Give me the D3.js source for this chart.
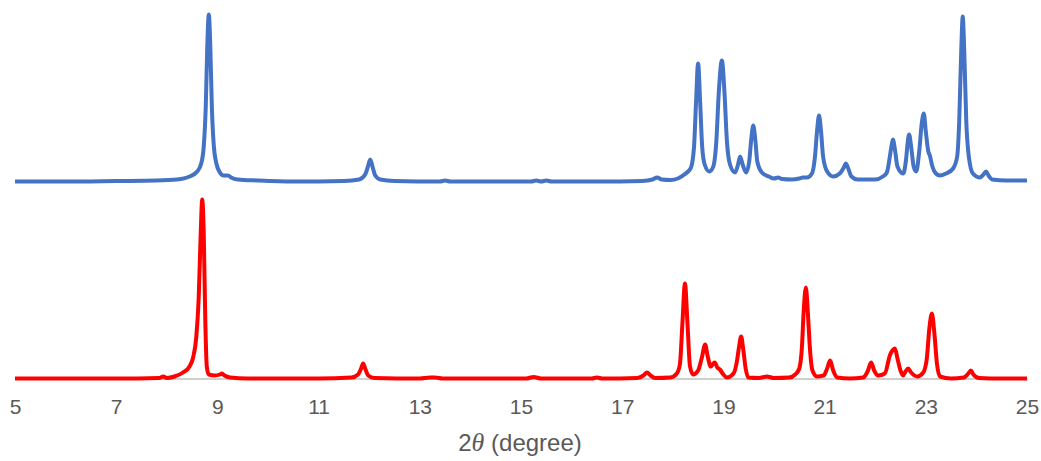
<!DOCTYPE html>
<html>
<head>
<meta charset="utf-8">
<script src="https://cdn.jsdelivr.net/npm/d3@7"></script>
<style>
  body { margin: 0; background: #fff; }
  svg { display: block; }
</style>
</head>
<body>
<script>
// 2theta ticks shown under the axis
var tickValues = [5, 7, 9, 11, 13, 15, 17, 19, 21, 23, 25];

// top pattern (blue), intensity above its own baseline
var bluePattern = [
  [5.00, 0], [6.00, 0], [7.00, 0.5], [7.80, 1], [8.20, 2], [8.45, 5], [8.60, 10], [8.68, 18],
  [8.73, 35], [8.77, 75], [8.80, 135], [8.83, 167], [8.86, 135], [8.89, 75], [8.93, 35], [8.98, 18],
  [9.05, 9], [9.12, 6], [9.21, 6], [9.27, 4], [9.40, 2], [9.80, 1], [10.50, 0], [11.50, 0.5],
  [11.80, 2], [11.92, 7], [11.97, 14], [12.02, 22], [12.07, 14], [12.12, 6], [12.22, 2], [12.50, 0.5],
  [13.40, 0], [13.50, 1], [13.60, 0], [15.20, 0], [15.30, 1], [15.40, 0], [15.50, 1], [15.60, 0],
  [16.50, 0], [17.40, 0.5], [17.60, 2], [17.69, 4], [17.78, 2], [17.95, 1.5], [18.10, 3], [18.20, 6],
  [18.28, 9], [18.36, 14], [18.42, 35], [18.46, 80], [18.50, 118], [18.54, 80], [18.58, 35], [18.63, 17],
  [18.72, 10], [18.80, 15], [18.86, 40], [18.91, 90], [18.97, 121], [19.02, 90], [19.07, 40], [19.13, 17],
  [19.23, 9], [19.29, 17], [19.33, 25], [19.38, 17], [19.45, 9], [19.51, 20], [19.55, 42], [19.59, 56],
  [19.63, 42], [19.67, 20], [19.76, 9], [19.90, 5], [20.00, 3], [20.08, 4], [20.16, 2.5], [20.35, 2],
  [20.50, 3], [20.57, 4], [20.65, 4], [20.75, 8], [20.81, 25], [20.85, 50], [20.89, 66], [20.93, 50],
  [20.97, 25], [21.05, 10], [21.17, 5], [21.30, 8], [21.38, 14], [21.42, 18], [21.46, 14], [21.53, 5],
  [21.65, 2], [22.00, 2], [22.15, 5], [22.23, 9], [22.29, 25], [22.32, 35], [22.35, 42], [22.39, 32],
  [22.44, 15], [22.55, 8], [22.61, 22], [22.64, 38], [22.67, 47], [22.71, 35], [22.76, 15], [22.81, 10],
  [22.87, 30], [22.92, 58], [22.96, 68], [23.00, 50], [23.05, 30], [23.08, 26], [23.13, 15], [23.20, 8],
  [23.28, 6], [23.40, 8], [23.54, 13], [23.62, 25], [23.66, 60], [23.70, 130], [23.73, 165], [23.76, 130],
  [23.80, 60], [23.85, 25], [23.93, 8], [24.07, 4], [24.14, 7], [24.19, 10], [24.24, 6], [24.31, 2],
  [24.60, 1], [25.00, 1]
];

// bottom pattern (red)
var redPattern = [
  [5.00, 0], [6.00, 0], [7.00, 0], [7.85, 0.5], [7.93, 2], [8.00, 0.5], [8.15, 2], [8.32, 6],
  [8.45, 12], [8.52, 21], [8.58, 40], [8.63, 80], [8.67, 145], [8.70, 179], [8.73, 145], [8.76, 60],
  [8.79, 12], [8.83, 4], [8.95, 3], [9.05, 4], [9.09, 5], [9.14, 3], [9.25, 1], [9.60, 0],
  [11.00, 0], [11.65, 1], [11.78, 4], [11.84, 10], [11.88, 15], [11.92, 10], [11.98, 3], [12.10, 0.5],
  [13.00, 0], [13.20, 1], [13.30, 1], [13.45, 0], [15.10, 0], [15.25, 1.5], [15.40, 0], [16.40, 0],
  [16.50, 1], [16.60, 0], [17.30, 0.5], [17.42, 3], [17.49, 6], [17.56, 3], [17.65, 0.5], [17.95, 1],
  [18.08, 5], [18.14, 14], [18.19, 55], [18.24, 95], [18.29, 55], [18.34, 12], [18.40, 4], [18.50, 8],
  [18.57, 20], [18.64, 34], [18.69, 22], [18.75, 12], [18.80, 15], [18.83, 16], [18.88, 11], [18.93, 9],
  [19.00, 4], [19.07, 1], [19.20, 5], [19.27, 18], [19.31, 32], [19.35, 42], [19.39, 30], [19.44, 10],
  [19.49, 1], [19.70, 0.5], [19.86, 2], [20.00, 0.5], [20.30, 1], [20.42, 4], [20.50, 10], [20.55, 30],
  [20.59, 70], [20.63, 91], [20.67, 65], [20.71, 30], [20.76, 8], [20.85, 2], [20.98, 3], [21.05, 10],
  [21.11, 18], [21.17, 8], [21.25, 1], [21.50, 0], [21.76, 1], [21.85, 7], [21.92, 16], [21.98, 8],
  [22.06, 3], [22.19, 5], [22.29, 23], [22.34, 28], [22.39, 30], [22.44, 20], [22.50, 8], [22.55, 3],
  [22.60, 7], [22.65, 10], [22.71, 6], [22.83, 2], [22.95, 6], [23.02, 20], [23.07, 50], [23.12, 65],
  [23.17, 45], [23.22, 15], [23.28, 2], [23.50, 0], [23.75, 1], [23.84, 5], [23.89, 8], [23.94, 4],
  [24.05, 0.5], [24.50, 0], [25.00, 0]
];

var blueOffset = 197;

var width = 1041;
var height = 461;

var svg = d3.select("body")
  .append("svg")
  .attr("width", width)
  .attr("height", height);

var x = d3.scaleLinear().domain([5, 25]).range([15, 1027]);
var y = d3.scaleLinear().domain([0, 365]).range([378.5, 13.5]);

// axis
var axis = svg.append("g")
  .attr("transform", "translate(0," + y(0) + ")")
  .call(d3.axisBottom(x).tickValues(tickValues).tickSize(0).tickSizeOuter(0).tickPadding(21));

axis.select(".domain")
  .attr("stroke", "#bfbfbf")
  .attr("stroke-width", 1.5);

axis.selectAll("text")
  .attr("fill", "#595959")
  .style("font-family", "'Liberation Sans', Arial, sans-serif")
  .style("font-size", "21px");

var line = d3.line()
  .x(function (d) { return x(d[0]); })
  .y(function (d) { return y(d[1]); })
  .curve(d3.curveMonotoneX);

var blueLine = d3.line()
  .x(function (d) { return x(d[0]); })
  .y(function (d) { return y(d[1] + blueOffset); })
  .curve(d3.curveMonotoneX);

svg.append("path")
  .datum(bluePattern)
  .attr("d", blueLine)
  .attr("fill", "none")
  .attr("stroke", "#4472c4")
  .attr("stroke-width", 4)
  .attr("stroke-linejoin", "round");

svg.append("path")
  .datum(redPattern)
  .attr("d", line)
  .attr("fill", "none")
  .attr("stroke", "#ff0000")
  .attr("stroke-width", 4)
  .attr("stroke-linejoin", "round");

// axis title
var title = svg.append("text")
  .attr("x", 520)
  .attr("y", 451)
  .attr("text-anchor", "middle")
  .attr("fill", "#595959")
  .style("font-family", "'Liberation Sans', Arial, sans-serif")
  .style("font-size", "24px");

title.append("tspan").text("2");
title.append("tspan")
  .style("font-family", "'Liberation Serif', serif")
  .style("font-style", "italic")
  .style("font-size", "26px")
  .text("θ");
title.append("tspan").text(" (degree)");
</script>
</body>
</html>
